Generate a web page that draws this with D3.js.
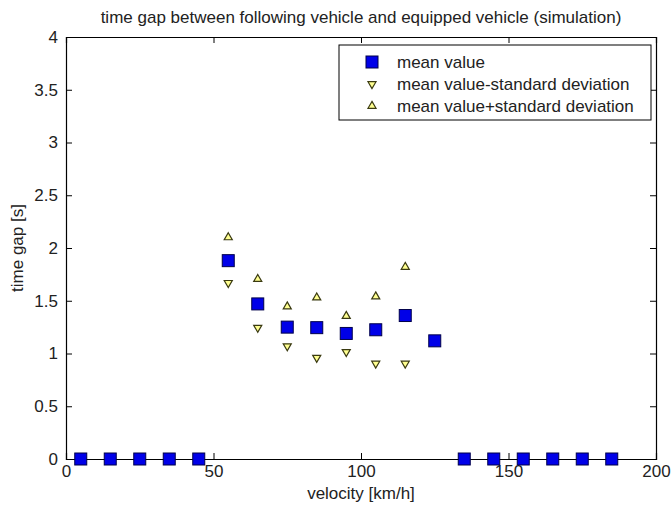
<!DOCTYPE html>
<html>
<head>
<meta charset="utf-8">
<script src="https://cdn.jsdelivr.net/npm/d3@7"></script>
<style>
  body { margin: 0; background: #fff; }
  text { font-family: "Liberation Sans", Arial, sans-serif; fill: #222; }
</style>
</head>
<body>
<svg id="chart" width="671" height="506"></svg>
<script>
// velocity bins [km/h]
let velocity = [5, 15, 25, 35, 45, 55, 65, 75, 85, 95, 105, 115, 125, 135, 145, 155, 165, 175, 185];
let meanValue = [0, 0, 0, 0, 0, 1.88, 1.47, 1.25, 1.245, 1.19, 1.225, 1.36, 1.12, 0, 0, 0, 0, 0, 0];
// std only available where traffic was measured
let stdVelocity = [55, 65, 75, 85, 95, 105, 115];
let meanMinusStd = [1.67, 1.245, 1.07, 0.96, 1.015, 0.905, 0.905];
let meanPlusStd = [2.10, 1.705, 1.445, 1.53, 1.355, 1.54, 1.82];

let xTicks = [0, 50, 100, 150, 200];
let yTicks = [0, 0.5, 1, 1.5, 2, 2.5, 3, 3.5, 4];

let margin = {top: 37, right: 15, bottom: 47, left: 66},
  width = 671 - margin.left - margin.right,
  height = 506 - margin.top - margin.bottom;

let fontSize = 17;

let svg = d3.select('#chart');
let g = svg.append('g')
  .attr('transform', 'translate(' + margin.left + ',' + margin.top + ')');

let xScale = d3.scaleLinear().domain([0, 200]).range([0, width]);
let yScale = d3.scaleLinear().domain([0, 4]).range([height, 0]);

// axes with inward ticks on all four sides
g.append('g')
  .attr('transform', 'translate(0,' + height + ')')
  .call(d3.axisBottom(xScale).tickValues(xTicks).tickSize(-6).tickPadding(6).tickFormat(d3.format('d')));
g.append('g')
  .call(d3.axisTop(xScale).tickValues(xTicks).tickSize(-6).tickFormat(''));
g.append('g')
  .call(d3.axisLeft(yScale).tickValues(yTicks).tickSize(-6).tickPadding(8).tickFormat((d) => String(d)));
g.append('g')
  .attr('transform', 'translate(' + width + ',0)')
  .call(d3.axisRight(yScale).tickValues(yTicks).tickSize(-6).tickFormat(''));

g.selectAll('.domain').attr('stroke', '#000').attr('stroke-width', 1.2);
g.selectAll('.tick line').attr('stroke', '#000');
g.selectAll('.tick text').attr('font-size', fontSize).attr('fill', '#222')
  .attr('font-family', '"Liberation Sans", Arial, sans-serif');

// mean values (squares)
let sq = 12;
let meanData = velocity.map((v, i) => ({v: v, y: meanValue[i]}));
g.append('g').selectAll('rect')
  .data(meanData)
  .enter()
  .append('rect')
  .attr('x', (d) => xScale(d.v) - sq / 2)
  .attr('y', (d) => yScale(d.y) - sq / 2)
  .attr('width', sq)
  .attr('height', sq)
  .attr('fill', '#0000e8')
  .attr('stroke', '#00004a')
  .attr('stroke-width', 1);

// triangles
let tri = d3.symbol().type(d3.symbolTriangle).size(28);
let downData = stdVelocity.map((v, i) => ({v: v, y: meanMinusStd[i]}));
let upData = stdVelocity.map((v, i) => ({v: v, y: meanPlusStd[i]}));

g.append('g').selectAll('path')
  .data(downData)
  .enter()
  .append('path')
  .attr('d', tri)
  .attr('transform', (d) => 'translate(' + xScale(d.v) + ',' + yScale(d.y) + ') rotate(180)')
  .attr('fill', '#ffff90')
  .attr('stroke', '#3a3a10')
  .attr('stroke-width', 1.2);

g.append('g').selectAll('path')
  .data(upData)
  .enter()
  .append('path')
  .attr('d', tri)
  .attr('transform', (d) => 'translate(' + xScale(d.v) + ',' + yScale(d.y) + ')')
  .attr('fill', '#ffff90')
  .attr('stroke', '#3a3a10')
  .attr('stroke-width', 1.2);

// legend
let legend = svg.append('g').attr('transform', 'translate(339,45)');
legend.append('rect')
  .attr('width', 312).attr('height', 75)
  .attr('fill', '#fff').attr('stroke', '#000').attr('stroke-width', 1);

let legendItems = ['mean value', 'mean value-standard deviation', 'mean value+standard deviation'];
legendItems.forEach((label, i) => {
  let ly = 17 + i * 22;
  if (i === 0) {
    legend.append('rect')
      .attr('x', 33 - 6).attr('y', ly - 6).attr('width', 12).attr('height', 12)
      .attr('fill', '#0000e8').attr('stroke', '#00004a');
  } else {
    legend.append('path')
      .attr('d', tri)
      .attr('transform', 'translate(33,' + ly + ')' + (i === 1 ? ' rotate(180)' : ''))
      .attr('fill', '#ffff90').attr('stroke', '#3a3a10').attr('stroke-width', 1.2);
  }
  legend.append('text')
    .attr('x', 58).attr('y', ly).attr('dy', '0.35em')
    .attr('font-size', fontSize)
    .text(label);
});

// title and labels
svg.append('text')
  .attr('x', margin.left + width / 2).attr('y', 23)
  .attr('text-anchor', 'middle').attr('font-size', fontSize)
  .text('time gap between following vehicle and equipped vehicle (simulation)');

svg.append('text')
  .attr('x', margin.left + width / 2).attr('y', 499)
  .attr('text-anchor', 'middle').attr('font-size', fontSize)
  .text('velocity [km/h]');

svg.append('text')
  .attr('transform', 'translate(23,' + (margin.top + height / 2) + ') rotate(-90)')
  .attr('text-anchor', 'middle').attr('font-size', fontSize)
  .text('time gap [s]');
</script>
</body>
</html>
